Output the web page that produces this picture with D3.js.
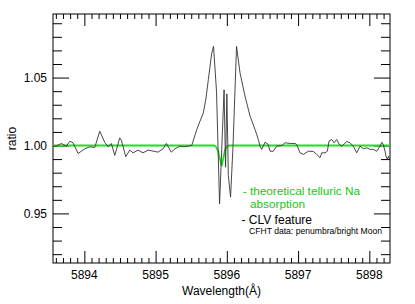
<!DOCTYPE html>
<html>
<head>
<meta charset="utf-8">
<script src="https://cdn.jsdelivr.net/npm/d3@7"></script>
<style>
  body { margin: 0; background: #fff; }
  svg { display: block; font-family: "Liberation Sans", Arial, sans-serif; }
</style>
</head>
<body>
<div id="chart"></div>
<script>
// CLV feature (observed ratio), wavelength in Angstrom
const wave = [5893.561, 5893.603, 5893.677, 5893.747, 5893.795, 5893.841, 5893.912, 5894.006,
  5894.076, 5894.146, 5894.216, 5894.286, 5894.333, 5894.379, 5894.427, 5894.497, 5894.519,
  5894.581, 5894.637, 5894.684, 5894.754, 5894.824, 5894.894, 5894.964, 5895.034, 5895.105,
  5895.151, 5895.221, 5895.273, 5895.343, 5895.399, 5895.455, 5895.507, 5895.578, 5895.624,
  5895.670, 5895.708, 5895.740, 5895.788, 5895.813, 5895.855, 5895.898, 5895.961, 5895.982,
  5896.000, 5896.021, 5896.052, 5896.087, 5896.136, 5896.185, 5896.255, 5896.326, 5896.396,
  5896.442, 5896.466, 5896.490, 5896.536, 5896.582, 5896.606, 5896.653, 5896.700, 5896.771,
  5896.817, 5896.887, 5896.957, 5896.981, 5897.027, 5897.074, 5897.144, 5897.214, 5897.262,
  5897.308, 5897.332, 5897.378, 5897.411, 5897.434, 5897.472, 5897.505, 5897.542, 5897.579,
  5897.613, 5897.683, 5897.729, 5897.775, 5897.823, 5897.869, 5897.916, 5897.965, 5898.011,
  5898.056, 5898.104, 5898.150, 5898.174, 5898.196, 5898.220, 5898.234, 5898.253, 5898.267,
  5898.281];
const ratio = [0.9995, 0.9995, 1.0015, 0.9995, 1.0031, 1.0020, 0.9941, 0.9976,
  0.9990, 0.9985, 1.0105, 1.0024, 0.9990, 1.0015, 0.9927, 1.0056, 1.0040,
  0.9917, 0.9966, 0.9946, 0.9966, 0.9946, 0.9966, 0.9959, 0.9951, 0.9976,
  1.0015, 0.9951, 0.9976, 0.9995, 0.9990, 0.9995, 1.0000, 1.0117, 1.0180,
  1.0239, 1.0350, 1.0484, 1.0680, 1.0730, 1.0400, 0.9570, 1.0410, 0.9840,
  1.0380, 0.9780, 0.9620, 1.0000, 1.0730, 1.0535, 1.0363, 1.0216, 1.0117,
  1.0044, 0.9995, 0.9971, 1.0024, 1.0007, 0.9958, 0.9958, 0.9995, 1.0000,
  1.0020, 1.0015, 1.0015, 1.0007, 0.9946, 0.9934, 0.9958, 0.9956, 0.9934,
  0.9910, 0.9946, 0.9946, 0.9958, 1.0032, 1.0044, 1.0020, 1.0044, 1.0007,
  0.9995, 1.0029, 1.0020, 0.9995, 0.9946, 0.9995, 0.9976, 0.9983, 0.9971,
  0.9971, 0.9958, 0.9995, 1.0024, 1.0007, 0.9958, 0.9921, 0.9897, 0.9921,
  0.9902];

// theoretical telluric Na absorption
const tellWave = [5893.561, 5895.820, 5895.848, 5895.876, 5895.904, 5895.926, 5895.947,
  5895.975, 5896.003, 5896.031, 5898.290];
const tellRatio = [1.000, 1.000, 0.999, 0.996, 0.990, 0.9848, 0.990, 0.997, 0.9995, 1.000, 1.000];

const xMajor = [5894, 5895, 5896, 5897, 5898];
const yMajor = [0.95, 1.00, 1.05];
const yLabels = ["0.95", "1.00", "1.05"];

const W = 415, H = 304;
const svg = d3.select('#chart').append('svg').attr('width', W).attr('height', H);

const x = d3.scaleLinear().domain([5893.56, 5898.29]).range([53, 390]);
const y = d3.scaleLinear().domain([0.9135, 1.0968]).range([263, 14]);

const xMinor = d3.range(58936, 58983).map(d => d / 10).filter(d => !xMajor.includes(d));
const yMinor = d3.range(92, 110).map(d => d / 100).filter(d => !yMajor.some(m => Math.abs(m - d) < 1e-6));

function ticks(axis, values, size) {
  return axis.tickValues(values).tickSize(size).tickSizeOuter(0).tickFormat('');
}

const axes = svg.append('g').attr('class', 'axes');
// bottom / top
axes.append('g').attr('transform', 'translate(0,263)').call(ticks(d3.axisTop(x), xMinor, 5));
axes.append('g').attr('transform', 'translate(0,263)').call(ticks(d3.axisTop(x), xMajor, 12));
axes.append('g').attr('transform', 'translate(0,14)').call(ticks(d3.axisBottom(x), xMinor, 5));
axes.append('g').attr('transform', 'translate(0,14)').call(ticks(d3.axisBottom(x), xMajor, 12));
// left / right
axes.append('g').attr('transform', 'translate(53,0)').call(ticks(d3.axisRight(y), yMinor, 9));
axes.append('g').attr('transform', 'translate(53,0)').call(ticks(d3.axisRight(y), yMajor, 16));
axes.append('g').attr('transform', 'translate(390,0)').call(ticks(d3.axisLeft(y), yMinor, 9));
axes.append('g').attr('transform', 'translate(390,0)').call(ticks(d3.axisLeft(y), yMajor, 16));
axes.selectAll('.domain').remove();
axes.selectAll('line').attr('stroke', '#000').attr('stroke-width', 1);

svg.append('rect')
  .attr('x', 53).attr('y', 14).attr('width', 337).attr('height', 249)
  .attr('fill', 'none').attr('stroke', '#000').attr('stroke-width', 1);

// tick labels
svg.append('g').selectAll('text').data(xMajor).enter().append('text')
  .attr('x', d => x(d)).attr('y', 278.5)
  .attr('text-anchor', 'middle').attr('font-size', 12).attr('fill', '#000')
  .text(d => d);
svg.append('g').selectAll('text').data(yMajor).enter().append('text')
  .attr('x', 47).attr('y', d => y(d) + 4.3)
  .attr('text-anchor', 'end').attr('font-size', 12).attr('fill', '#000')
  .text((d, i) => yLabels[i]);

svg.append('text').attr('x', 221.5).attr('y', 294.5).attr('text-anchor', 'middle')
  .attr('font-size', 12).text('Wavelength(Å)');
svg.append('text').attr('transform', 'translate(15.5,138.5) rotate(-90)')
  .attr('text-anchor', 'middle').attr('font-size', 12).text('ratio');

// data
svg.append('clipPath').attr('id', 'clip').append('rect')
  .attr('x', 53).attr('y', 14).attr('width', 337).attr('height', 249);
const plot = svg.append('g').attr('clip-path', 'url(#clip)');

const line = d3.line().x(d => x(d[0])).y(d => y(d[1]));
plot.append('path')
  .datum(d3.zip(tellWave, tellRatio))
  .attr('d', line)
  .attr('fill', 'none').attr('stroke', '#22dd22').attr('stroke-width', 1.8);
plot.append('path')
  .datum(d3.zip(wave, ratio))
  .attr('d', line)
  .attr('fill', 'none').attr('stroke', '#333').attr('stroke-width', 0.9);

// legend
const green = '#11cc11';
svg.append('text').attr('x', 242.7).attr('y', 194.5).attr('font-size', 11.8).attr('fill', green)
  .text('- theoretical telluric Na');
svg.append('text').attr('x', 250).attr('y', 208.3).attr('font-size', 11.8).attr('fill', green)
  .text('absorption');
svg.append('text').attr('x', 241.5).attr('y', 224).attr('font-size', 12).attr('fill', '#000')
  .text('- CLV feature');
svg.append('text').attr('x', 249).attr('y', 234).attr('font-size', 8.6).attr('fill', '#000')
  .text('CFHT data: penumbra/bright Moon');
</script>
</body>
</html>
